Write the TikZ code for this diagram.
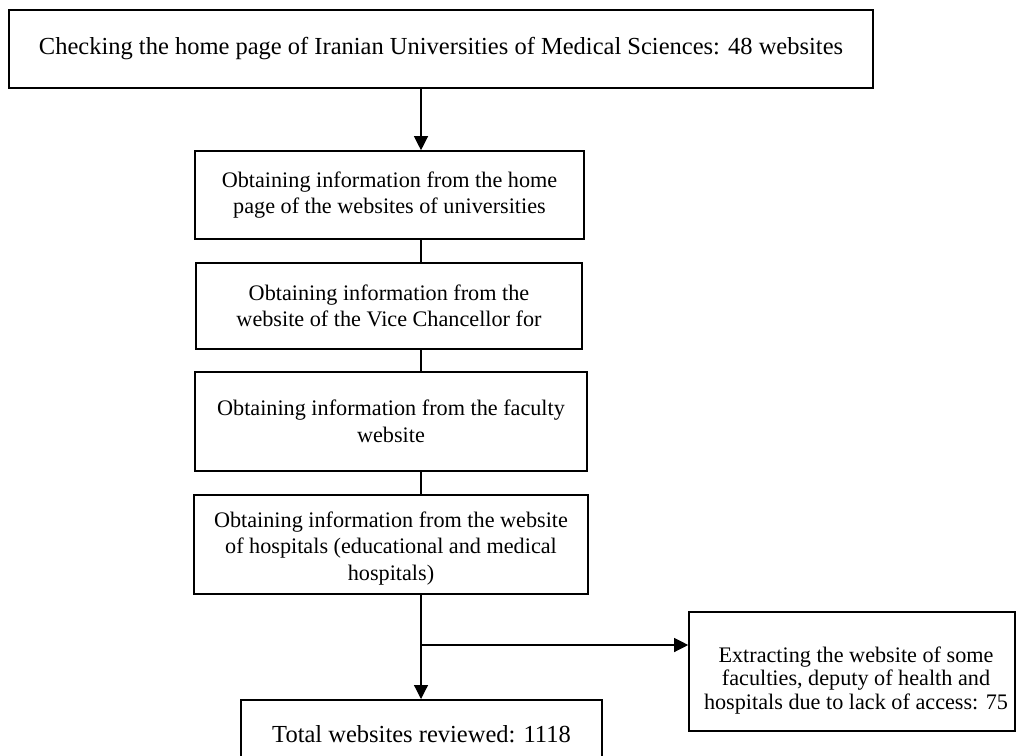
\documentclass[tikz,border=0pt]{standalone}
\usepackage{fontspec}
\setmainfont{Liberation Serif}
\usetikzlibrary{arrows.meta}
\begin{document}
\begin{tikzpicture}[x=1pt,y=-1pt,
  box/.style={draw, line width=1.6pt, rectangle, inner sep=0pt, align=center},
  bigtxt/.style={font=\fontsize{24.5}{29}\selectfont},
  smalltxt/.style={font=\fontsize{22.2}{26.5}\selectfont},
  conn/.style={line width=1.2pt},
  arr/.style={conn, -{Triangle[width=14pt,length=14pt]}}]
\clip (0,0) rectangle (1017,755);
\fill[white] (0,0) rectangle (1017,755);
\coordinate (cx) at (421,0);
\node[box, bigtxt, minimum width=864pt, minimum height=78pt] (top) at (441,49)
  {Checking the home page of Iranian Universities of Medical Sciences: 48 websites};
\node[box, smalltxt, minimum width=389pt, minimum height=88pt] (b2) at (389.5,195)
  {Obtaining information from the home\\page of the websites of universities};
\node[box, smalltxt, minimum width=386pt, minimum height=86pt] (b3) at (389,306)
  {Obtaining information from the\\website of the Vice Chancellor for};
\node[box, smalltxt, minimum width=392pt, minimum height=99pt] (b4) at (391,421.5)
  {Obtaining information from the faculty\\website};
\node[box, minimum width=394pt, minimum height=99pt,
  label={[smalltxt, align=center, yshift=-4pt]center:Obtaining information from the website\\of hospitals (educational and medical\\hospitals)}] (b5) at (391,544.5) {};
\node[box, minimum width=326pt, minimum height=119pt,
  label={[font=\fontsize{22.2}{23.8}\selectfont, align=center, yshift=-9pt, xshift=4pt]center:Extracting the website of some\\faculties, deputy of health and\\hospitals due to lack of access: 75}] (side) at (852,671.5) {};
\node[box, bigtxt, anchor=north, text height=43pt, text depth=60pt, minimum width=361pt] (tot) at (421.5,699)
  {Total websites reviewed: 1118};
\coordinate (branch) at (421,645);
\draw[arr] (top.south -| cx) -- (b2.north -| cx);
\draw[conn] (b2.south -| cx) -- (b3.north -| cx);
\draw[conn] (b3.south -| cx) -- (b4.north -| cx);
\draw[conn] (b4.south -| cx) -- (b5.north -| cx);
\draw[arr] (b5.south -| cx) -- (tot.north -| cx);
\draw[arr] (branch) -- (branch -| side.west);
\end{tikzpicture}
\end{document}
